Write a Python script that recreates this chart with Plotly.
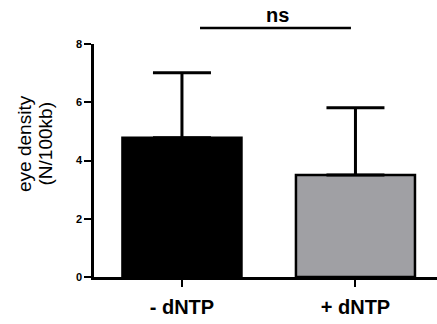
import plotly.graph_objects as go

categories = ["- dNTP", "+ dNTP"]
means = [4.78, 3.50]
sd_upper = [2.23, 2.31]
bar_colors = ["#000000", "#a0a0a4"]
y_ticks = [0, 2, 4, 6, 8]
y_title_lines = ["eye density", "(N/100kb)"]
sig_label = "ns"
sig_y = 8.55

FONT = "Liberation Sans, Arial, sans-serif"
xs = [0, 1]

fig = go.Figure()
fig.add_trace(go.Bar(
    x=xs, y=means, width=0.686,
    marker=dict(color=bar_colors, line=dict(color="black", width=2.5)),
    error_y=dict(type="data", array=sd_upper, arrayminus=[0, 0], symmetric=False,
                 color="black", thickness=3, width=29),
    showlegend=False, hoverinfo="skip",
))

ymax = 8
fig.add_shape(type="line", xref="x", yref="paper", x0=0.104, x1=0.974,
              y0=sig_y / ymax, y1=sig_y / ymax, line=dict(color="black", width=2.5))
fig.add_annotation(x=0.553, xref="x", y=sig_y / ymax, yref="paper", text="<b>%s</b>" % sig_label,
                   showarrow=False, yanchor="bottom", yshift=0,
                   font=dict(family=FONT, size=20, color="black"))

# y-axis title as two tightly spaced rotated lines
for i, line in enumerate(y_title_lines):
    fig.add_annotation(x=0, xref="paper", xshift=-69 + 20.5 * i, xanchor="center",
                       y=0.571, yref="paper", yanchor="middle",
                       text=line, textangle=-90, showarrow=False,
                       font=dict(family=FONT, size=19, color="black"))

fig.update_layout(
    width=437, height=324,
    margin=dict(l=94, r=0, t=44, b=47),
    paper_bgcolor="white", plot_bgcolor="white",
    font=dict(family=FONT, color="black"),
    xaxis=dict(range=[-0.507, 1.47], tickvals=xs, automargin=False,
               ticktext=["<b>%s</b>" % c for c in categories],
               tickfont=dict(size=20, family=FONT, color="black"),
               ticklabelstandoff=3,
               showline=True, linecolor="black", linewidth=2.5,
               ticks="outside", ticklen=7, tickwidth=2, tickcolor="black",
               showgrid=False, zeroline=False),
    yaxis=dict(range=[0, ymax], tickvals=y_ticks, automargin=False,
               ticktext=["<b>%d</b>" % v for v in y_ticks],
               tickfont=dict(size=11, family=FONT, color="black"),
               showline=True, linecolor="black", linewidth=2.5,
               ticks="outside", ticklen=7, tickwidth=2, tickcolor="black",
               showgrid=False, zeroline=False),
)

fig.write_html("out.html", config={"displayModeBar": False},
               post_script="document.body.style.margin='0';document.body.style.padding='0';")
